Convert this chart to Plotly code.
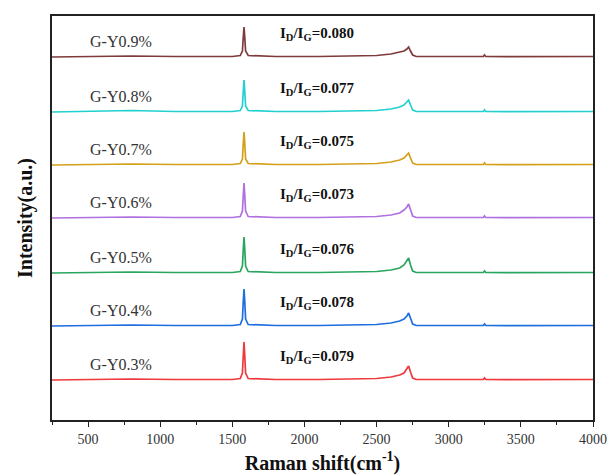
import plotly.graph_objects as go

# Raman shift sample points (cm-1)
shift = [250, 500, 800, 1100, 1340, 1360, 1500, 1555, 1570, 1576, 1581, 1586, 1592, 1610,
         1800, 2100, 2400, 2450, 2500, 2600, 2660, 2690, 2710, 2722, 2735, 2750, 2775,
         2900, 3200, 3240, 3248, 3256, 3400, 3700, 4000]

samples = ["G-Y0.9%", "G-Y0.8%", "G-Y0.7%", "G-Y0.6%", "G-Y0.5%", "G-Y0.4%", "G-Y0.3%"]
ratios = ["0.080", "0.077", "0.075", "0.073", "0.076", "0.078", "0.079"]
colors = ["#7f3b3b", "#22d0d0", "#d4a01a", "#b070e0", "#2aa55f", "#1e6ee0", "#f0393c"]
offsets = [363, 308, 255, 202, 147, 94, 40]

# intensities relative to each baseline (a.u.)
y09 = [0, 0.5, 1, 0.5, 0.5, 1, 0.5, 1.5, 6, 20, 30, 20, 6, 1.5, 0.5, 0.5, 1, 1.5, 1.5, 3, 4.5, 6, 8, 10, 6, 2, 0.5, 0.3, 0.3, 0.5, 2, 0.5, 0.3, 0.3, 0.5]
y08 = [0, 0.5, 1.5, 0.5, 0.5, 1, 0.5, 1.5, 6, 21, 32, 21, 6, 1.5, 0.5, 0.5, 1, 1.5, 1.5, 3, 5, 7, 10, 12, 7, 2, 0.5, 0.3, 0.3, 0.5, 2, 0.5, 0.3, 0.3, 0.5]
y07 = [0, 0.5, 1, 0.5, 0.5, 1, 0.5, 1.5, 6, 22, 33, 22, 6, 1.5, 0.5, 0.5, 1, 1.5, 1.5, 3, 5, 7, 10, 12, 7, 2, 0.5, 0.3, 0.3, 0.5, 2, 0.5, 0.3, 0.3, 0.5]
y06 = [0, 0.5, 1, 0.5, 0.5, 1, 0.5, 1.5, 7, 23, 35, 23, 7, 1.5, 0.5, 0.5, 1, 1.5, 1.5, 3, 5, 8, 11, 14, 8, 2, 0.5, 0.3, 0.3, 0.5, 2, 0.5, 0.3, 0.3, 0.5]
y05 = [0, 0.5, 1, 0.5, 0.5, 1, 0.5, 1.5, 7, 24, 36, 24, 7, 1.5, 0.5, 0.5, 1, 1.5, 1.5, 3, 5, 8, 12, 15, 8, 2, 0.5, 0.3, 0.3, 0.5, 2, 0.5, 0.3, 0.3, 0.5]
y04 = [0, 0.5, 1, 0.5, 0.5, 1, 0.5, 1.5, 7, 25, 37, 25, 7, 1.5, 0.5, 0.5, 1, 1.5, 1.5, 3, 5, 7, 10, 13, 7, 2, 0.5, 0.3, 0.3, 0.5, 2, 0.5, 0.3, 0.3, 0.5]
y03 = [0, 0.5, 1, 0.5, 0.5, 1, 0.5, 1.5, 7, 25, 38, 25, 7, 1.5, 0.5, 0.5, 1, 1.5, 1.5, 3, 5, 7, 11, 14, 8, 2, 0.5, 0.3, 0.3, 0.5, 2, 0.5, 0.3, 0.3, 0.5]
spectra = [y09, y08, y07, y06, y05, y04, y03]

fig = go.Figure()
for name, col, off, ys in zip(samples, colors, offsets, spectra):
    fig.add_trace(go.Scatter(x=shift, y=[v + off for v in ys], mode="lines",
                             line=dict(color=col, width=1.7), name=name,
                             showlegend=False))

ann = []
for name, r, off in zip(samples, ratios, offsets):
    ann.append(dict(x=500, y=off + 16, xref="x", yref="y", text=name, showarrow=False,
                    xanchor="left", yanchor="middle",
                    font=dict(family="Liberation Serif", size=16, color="#333333")))
    ann.append(dict(x=1815, y=off + 23, xref="x", yref="y",
                    text="<b>I<sub>D</sub>/I<sub>G</sub>=" + r + "</b>", showarrow=False,
                    xanchor="left", yanchor="middle",
                    font=dict(family="Liberation Serif", size=15, color="#111111")))

fig.update_layout(
    width=611, height=476,
    margin=dict(l=52, r=18, t=16, b=56, autoexpand=False),
    paper_bgcolor="white", plot_bgcolor="white",
    annotations=ann,
    xaxis=dict(range=[250, 4000], tickvals=[500, 1000, 1500, 2000, 2500, 3000, 3500, 4000],
               automargin=False,
               ticks="outside", ticklen=5, tickwidth=1.2, tickcolor="#222",
               minor=dict(tickvals=[250, 750, 1250, 1750, 2250, 2750, 3250, 3750],
                          ticks="outside", ticklen=3, tickcolor="#222"),
               showline=True, linecolor="#222", linewidth=1.5, mirror=True,
               showgrid=False, zeroline=False,
               tickfont=dict(family="Liberation Serif", size=14, color="#333333"),
               title=dict(text="<b>Raman shift(cm<sup>-1</sup>)</b>", standoff=10,
                          font=dict(family="Liberation Serif", size=20, color="#111111"))),
    yaxis=dict(range=[0, 404], showticklabels=False, ticks="", automargin=False,
               showline=True, linecolor="#222", linewidth=1.5, mirror=True,
               showgrid=False, zeroline=False,
               title=dict(text="<b>Intensity(a.u.)</b>", standoff=12,
                          font=dict(family="Liberation Serif", size=20, color="#111111"))),
)

fig.write_html("out.html")
